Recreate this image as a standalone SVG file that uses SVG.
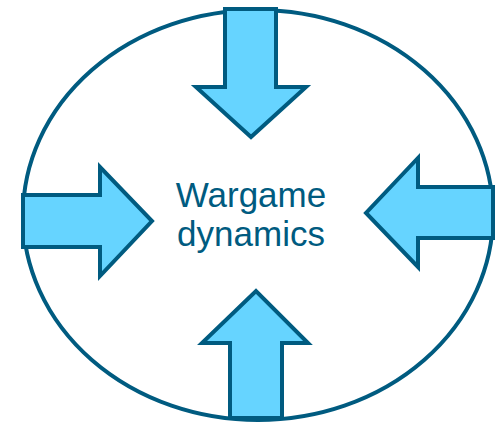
<svg xmlns="http://www.w3.org/2000/svg" width="495" height="427" viewBox="0 0 495 427">
<style>
.ring{fill:#fff;stroke:#005B80;stroke-width:4}
.arrow{fill:#66D4FF;stroke:#005B80;stroke-width:4;stroke-linejoin:miter}
.label{font-family:"Liberation Sans",Arial,sans-serif;font-size:35px;fill:#005B80;text-anchor:middle}
</style>
<rect width="495" height="427" fill="#fff"/>
<g id="ring"><ellipse class="ring" cx="258" cy="215" rx="235" ry="205"/></g>
<g id="arrows">
<g id="arrow-top"><polygon class="arrow" points="225,9 276,9 276,87 306,87 251,137 196,87 225,87"/></g>
<g id="arrow-left"><polygon class="arrow" points="23,195 100,195 100,167 152,221 100,276 100,247 23,247"/></g>
<g id="arrow-right"><polygon class="arrow" points="493,187 418,187 418,158 366,213 418,267 418,238 493,238"/></g>
<g id="arrow-bottom"><polygon class="arrow" points="230,418 282,418 282,343 308,343 256,291 202,343 230,343"/></g>
</g>
<g id="center"><text class="label" x="251" y="207">Wargame</text><text class="label" x="251" y="246">dynamics</text></g>
</svg>
